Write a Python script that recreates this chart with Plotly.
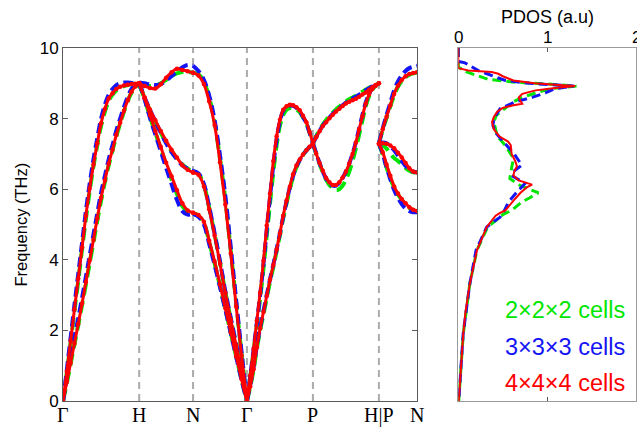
import plotly.graph_objects as go

# ---------------- data ----------------
# high-symmetry path (units of 2*pi/a, BCC)
TICK_K = [0.0, 1.0, 1.707, 2.414, 3.280, 4.146, 4.646]
TICK_LABELS = ["Γ", "H", "N", "Γ", "P", "H|P", "N"]

K_GH = [0.00, 0.05, 0.10, 0.15, 0.20, 0.25, 0.30, 0.35, 0.40, 0.45, 0.50,
        0.55, 0.60, 0.65, 0.70, 0.75, 0.80, 0.85, 0.90, 0.95, 1.00]
K_HN = [1.000, 1.071, 1.141, 1.212, 1.283, 1.354, 1.424, 1.495, 1.566, 1.636, 1.707]
K_NG = [1.707, 1.778, 1.849, 1.919, 1.990, 2.061, 2.131, 2.202, 2.273, 2.343, 2.414]
K_GP = [2.414, 2.457, 2.501, 2.544, 2.587, 2.631, 2.674, 2.717, 2.761, 2.804, 2.847,
        2.890, 2.934, 2.977, 3.020, 3.064, 3.107, 3.150, 3.194, 3.237, 3.280]
K_PH = [3.280, 3.323, 3.367, 3.410, 3.453, 3.497, 3.540, 3.583, 3.627, 3.670, 3.713,
        3.757, 3.800, 3.843, 3.887, 3.930, 3.973, 4.017, 4.060, 4.103, 4.146]
K_PN = [4.146, 4.196, 4.246, 4.296, 4.346, 4.396, 4.446, 4.496, 4.546, 4.596, 4.646]

# 4x4x4 cells (red)
RED_GH = [[0, 0.83, 1.7, 2.6, 3.47, 4.35, 5.25, 6.02, 6.7, 7.3, 7.87, 8.27, 8.57, 8.72, 8.84, 8.9, 8.94, 8.96, 8.98, 8.99, 9.0],
          [0, 0.54, 1.08, 1.63, 2.18, 2.76, 3.37, 3.98, 4.57, 5.18, 5.76, 6.25, 6.73, 7.12, 7.54, 7.88, 8.22, 8.52, 8.76, 8.91, 9.0]]
RED_HN = [[9.0, 8.92, 8.87, 8.85, 8.97, 9.16, 9.31, 9.41, 9.38, 9.34, 9.3],
          [9.0, 8.6, 8.26, 7.95, 7.65, 7.37, 7.12, 6.9, 6.68, 6.55, 6.47],
          [9.0, 8.58, 8.1, 7.65, 7.2, 6.75, 6.37, 5.97, 5.6, 5.4, 5.33]]
RED_NG = [[9.3, 9.22, 8.98, 8.49, 7.82, 6.76, 5.57, 4.18, 2.68, 1.29, 0],
          [6.47, 6.41, 6.08, 5.43, 4.69, 3.89, 3.06, 2.3, 1.57, 0.8, 0],
          [5.33, 5.27, 5.08, 4.54, 3.95, 3.3, 2.63, 1.95, 1.27, 0.62, 0]]
RED_GP = [[0, 0.72, 1.47, 2.27, 3.07, 3.97, 4.97, 5.88, 6.8, 7.5, 7.97, 8.25, 8.35, 8.39, 8.38, 8.32, 8.24, 8.08, 7.9, 7.62, 7.29],
          [0, 0.41, 0.9, 1.52, 2.06, 2.52, 2.98, 3.44, 3.85, 4.3, 4.75, 5.25, 5.68, 6.07, 6.42, 6.67, 6.84, 6.98, 7.1, 7.2, 7.29]]
RED_PH = [[7.29, 7.47, 7.64, 7.79, 7.9, 8.01, 8.11, 8.2, 8.28, 8.36, 8.43, 8.48, 8.52, 8.56, 8.62, 8.68, 8.74, 8.82, 8.89, 8.95, 9.0],
          [7.29, 7.01, 6.74, 6.52, 6.32, 6.2, 6.12, 6.12, 6.2, 6.33, 6.5, 6.73, 7.0, 7.32, 7.7, 8.07, 8.42, 8.68, 8.84, 8.93, 9.0]]
RED_PN = [[7.29, 7.7, 8.05, 8.38, 8.7, 8.93, 9.09, 9.2, 9.26, 9.29, 9.31],
          [7.29, 7.3, 7.29, 7.24, 7.16, 7.03, 6.9, 6.74, 6.59, 6.5, 6.47],
          [7.29, 7.05, 6.7, 6.38, 6.08, 5.88, 5.72, 5.6, 5.49, 5.42, 5.38]]

# 3x3x3 cells (blue)
BLUE_GH = [[0, 0.88, 1.8, 2.72, 3.6, 4.48, 5.38, 6.15, 6.85, 7.45, 8.0, 8.4, 8.68, 8.84, 8.95, 9.0, 9.02, 9.02, 9.01, 9.0, 9.0],
           [0, 0.65, 1.25, 1.8, 2.35, 2.92, 3.52, 4.12, 4.72, 5.32, 5.9, 6.38, 6.85, 7.25, 7.66, 8.0, 8.33, 8.62, 8.84, 8.96, 9.0]]
BLUE_HN = [[9.02, 9.0, 8.97, 8.95, 8.98, 9.08, 9.2, 9.33, 9.45, 9.52, 9.5],
           [9.02, 8.6, 8.25, 7.92, 7.6, 7.3, 7.05, 6.85, 6.68, 6.58, 6.52],
           [9.02, 8.55, 8.02, 7.55, 7.08, 6.6, 6.15, 5.7, 5.38, 5.28, 5.3]]
BLUE_NG = [[9.5, 9.35, 9.1, 8.65, 7.95, 6.95, 5.8, 4.35, 2.85, 1.4, 0],
           [6.52, 6.45, 6.15, 5.5, 4.75, 3.95, 3.1, 2.35, 1.6, 0.82, 0],
           [5.3, 5.22, 5.0, 4.45, 3.85, 3.22, 2.58, 1.92, 1.25, 0.6, 0]]
BLUE_GP = [[0, 0.7, 1.45, 2.22, 3.0, 3.88, 4.85, 5.78, 6.7, 7.42, 7.92, 8.22, 8.33, 8.37, 8.36, 8.3, 8.2, 8.05, 7.86, 7.6, 7.3],
           [0, 0.45, 0.95, 1.55, 2.08, 2.55, 3.0, 3.45, 3.87, 4.3, 4.75, 5.22, 5.65, 6.05, 6.38, 6.64, 6.83, 6.97, 7.1, 7.2, 7.3]]
BLUE_PH = [[7.3, 7.48, 7.65, 7.8, 7.92, 8.03, 8.13, 8.22, 8.3, 8.38, 8.45, 8.51, 8.57, 8.62, 8.68, 8.74, 8.8, 8.86, 8.91, 8.96, 9.0],
           [7.3, 7.02, 6.74, 6.5, 6.3, 6.17, 6.1, 6.1, 6.18, 6.32, 6.5, 6.73, 7.0, 7.33, 7.72, 8.1, 8.45, 8.7, 8.86, 8.95, 9.0]]
BLUE_PN = [[7.3, 7.72, 8.1, 8.45, 8.8, 9.05, 9.22, 9.35, 9.43, 9.47, 9.5],
           [7.3, 7.32, 7.3, 7.22, 7.1, 6.95, 6.8, 6.66, 6.55, 6.5, 6.48],
           [7.3, 7.0, 6.62, 6.28, 5.98, 5.75, 5.58, 5.45, 5.38, 5.35, 5.35]]

# 2x2x2 cells (green)
GREEN_GH = [[0, 0.8, 1.65, 2.55, 3.4, 4.3, 5.15, 5.95, 6.65, 7.25, 7.8, 8.2, 8.5, 8.68, 8.8, 8.87, 8.92, 8.95, 8.97, 8.98, 8.98],
            [0, 0.5, 1.05, 1.6, 2.15, 2.72, 3.3, 3.9, 4.5, 5.1, 5.68, 6.2, 6.68, 7.1, 7.5, 7.86, 8.2, 8.5, 8.74, 8.9, 8.98]]
GREEN_HN = [[8.98, 8.95, 8.92, 8.93, 9.0, 9.1, 9.2, 9.28, 9.32, 9.32, 9.3],
            [8.98, 8.58, 8.22, 7.9, 7.6, 7.32, 7.08, 6.87, 6.7, 6.58, 6.5],
            [8.98, 8.56, 8.05, 7.6, 7.15, 6.7, 6.28, 5.87, 5.52, 5.37, 5.33]]
GREEN_NG = [[9.3, 9.25, 9.05, 8.6, 7.9, 6.85, 5.7, 4.25, 2.78, 1.35, 0],
            [6.5, 6.43, 6.12, 5.47, 4.72, 3.92, 3.08, 2.32, 1.58, 0.8, 0],
            [5.33, 5.25, 5.05, 4.5, 3.9, 3.25, 2.6, 1.93, 1.26, 0.61, 0]]
GREEN_GP = [[0, 0.68, 1.4, 2.15, 2.9, 3.75, 4.7, 5.6, 6.5, 7.25, 7.8, 8.1, 8.25, 8.3, 8.3, 8.26, 8.18, 8.03, 7.86, 7.6, 7.3],
            [0, 0.4, 0.88, 1.48, 2.0, 2.45, 2.92, 3.38, 3.8, 4.25, 4.7, 5.18, 5.6, 6.0, 6.35, 6.62, 6.82, 6.97, 7.1, 7.2, 7.3]]
GREEN_PH = [[7.3, 7.5, 7.68, 7.83, 7.96, 8.07, 8.17, 8.26, 8.34, 8.42, 8.49, 8.55, 8.6, 8.65, 8.7, 8.76, 8.82, 8.87, 8.92, 8.96, 9.0],
            [7.3, 7.0, 6.72, 6.48, 6.27, 6.12, 6.03, 5.98, 6.0, 6.1, 6.27, 6.5, 6.8, 7.15, 7.55, 7.95, 8.35, 8.63, 8.82, 8.93, 9.0]]
GREEN_PN = [[7.3, 7.68, 8.02, 8.35, 8.66, 8.9, 9.06, 9.17, 9.24, 9.28, 9.3],
            [7.3, 7.25, 7.15, 7.0, 6.88, 6.8, 6.7, 6.6, 6.52, 6.48, 6.47],
            [7.3, 6.98, 6.62, 6.3, 6.05, 5.85, 5.7, 5.57, 5.47, 5.4, 5.38]]

# PDOS (frequency in THz, PDOS in a.u.)
RED_DOS_F = [10.0, 9.43, 9.36, 9.32, 9.27, 9.2, 9.08, 9.0, 8.96, 8.92, 8.87, 8.8, 8.7, 8.6, 8.5, 8.42,
             8.38, 8.3, 8.2, 8.05, 7.9, 7.7, 7.5, 7.35, 7.25, 7.0, 6.8, 6.65, 6.5, 6.39, 6.25, 6.13,
             6.05, 5.9, 5.73, 5.55, 5.4, 5.33, 5.25, 4.93, 4.27, 3.33, 2.5, 1.91, 0.97, 0.0]
RED_DOS = [0.0, 0.0, 0.113, 0.376, 0.45, 0.5, 0.62, 0.86, 1.09, 1.315, 1.09, 0.87, 0.72, 0.68, 0.7, 0.72,
           0.62, 0.5, 0.44, 0.4, 0.38, 0.4, 0.46, 0.56, 0.59, 0.6, 0.64, 0.66, 0.63, 0.62, 0.68, 0.83,
           0.77, 0.7, 0.64, 0.58, 0.53, 0.47, 0.42, 0.32, 0.21, 0.13, 0.08, 0.056, 0.027, 0.005]
BLUE_DOS_F = [10.0, 9.62, 9.58, 9.36, 9.2, 9.08, 9.0, 8.95, 8.92, 8.85, 8.73, 8.6, 8.47, 8.28, 8.0, 7.8,
              7.57, 7.24, 6.96, 6.68, 6.5, 6.39, 6.16, 5.92, 5.64, 5.4, 5.21, 4.93, 4.27, 3.33, 1.91, 0.0]
BLUE_DOS = [0.0, 0.0, 0.075, 0.225, 0.4, 0.53, 0.8, 1.1, 1.3, 1.09, 0.98, 0.83, 0.64, 0.47, 0.4, 0.39,
            0.43, 0.545, 0.64, 0.715, 0.62, 0.6, 0.75, 0.66, 0.565, 0.52, 0.47, 0.32, 0.2, 0.13, 0.055, 0.005]
GREEN_DOS_F = [10.0, 9.45, 9.4, 9.32, 9.11, 9.03, 8.98, 8.92, 8.85, 8.75, 8.6, 8.45, 8.3, 8.1, 7.9, 7.5,
               7.24, 6.87, 6.6, 6.3, 6.1, 5.9, 5.75, 5.64, 5.4, 5.28, 5.21, 4.93, 4.27, 3.33, 1.91, 0.0]
GREEN_DOS = [0.0, 0.0, 0.05, 0.095, 0.34, 0.64, 1.0, 1.33, 1.05, 0.9, 0.72, 0.6, 0.53, 0.43, 0.4, 0.44,
             0.53, 0.62, 0.6, 0.58, 0.7, 0.9, 0.8, 0.715, 0.6, 0.5, 0.47, 0.33, 0.21, 0.13, 0.056, 0.005]

DOS_TICKS = [0, 1, 2]
FREQ_TICKS = [0, 2, 4, 6, 8, 10]
SERIES_NAMES = ["2×2×2 cells", "3×3×3 cells", "4×4×4 cells"]

# ---------------- styling / layout ----------------
W, H = 637, 427
ML, MR, MT, MB = 63, W - 636, 48, H - 401
PW, PH_ = W - ML - MR, H - MT - MB
GREEN = "rgb(0,230,0)"
BLUE = "rgb(20,20,245)"
RED = "rgb(255,0,0)"
AXC = "#5a5a5a"
SANS = "Liberation Sans, Arial"
SERIF = "Liberation Serif, Times New Roman"


def fx(p):
    # page pixel -> paper x
    return (p - ML) / PW


def fy(p):
    # page pixel -> paper y
    return (H - MB - p) / PH_


def build(segments):
    xs, ys = [], []
    for K, branches in segments:
        for b in branches:
            xs += list(K) + [None]
            ys += list(b) + [None]
    return xs, ys


def segs(GH, HN, NG, GP, PH, PN):
    return [(K_GH, GH), (K_HN, HN), (K_NG, NG), (K_GP, GP), (K_PH, PH), (K_PN, PN)]


fig = go.Figure()

gx, gy = build(segs(GREEN_GH, GREEN_HN, GREEN_NG, GREEN_GP, GREEN_PH, GREEN_PN))
bx, by = build(segs(BLUE_GH, BLUE_HN, BLUE_NG, BLUE_GP, BLUE_PH, BLUE_PN))
rx, ry = build(segs(RED_GH, RED_HN, RED_NG, RED_GP, RED_PH, RED_PN))

fig.add_trace(go.Scatter(x=gx, y=gy, mode="lines", line=dict(color=GREEN, width=4, dash="12px,6px", shape="spline"),
                         name=SERIES_NAMES[0], showlegend=False, xaxis="x", yaxis="y"))
fig.add_trace(go.Scatter(x=bx, y=by, mode="lines", line=dict(color=BLUE, width=4, dash="10px,5px", shape="spline"),
                         name=SERIES_NAMES[1], showlegend=False, xaxis="x", yaxis="y"))
fig.add_trace(go.Scatter(x=rx, y=ry, mode="lines+markers", line=dict(color=RED, width=3, shape="spline"),
                         marker=dict(color=RED, size=4.5), name=SERIES_NAMES[2], showlegend=False,
                         xaxis="x", yaxis="y"))

# PDOS panel
fig.add_trace(go.Scatter(x=GREEN_DOS, y=GREEN_DOS_F, mode="lines", line=dict(color=GREEN, width=3, dash="9px,5px"),
                         showlegend=False, xaxis="x2", yaxis="y2"))
fig.add_trace(go.Scatter(x=BLUE_DOS, y=BLUE_DOS_F, mode="lines", line=dict(color=BLUE, width=3, dash="9px,5px"),
                         showlegend=False, xaxis="x2", yaxis="y2"))
fig.add_trace(go.Scatter(x=RED_DOS, y=RED_DOS_F, mode="lines", line=dict(color=RED, width=2),
                         showlegend=False, xaxis="x2", yaxis="y2"))

shapes = []
for k in TICK_K[1:-1]:
    shapes.append(dict(type="line", xref="x", yref="y", x0=k, x1=k, y0=0, y1=10, layer="below",
                       line=dict(color="#ababab", width=2, dash="7px,5px")))

annotations = [
    dict(text="Frequency (THz)", xref="paper", yref="paper", x=fx(20), y=fy(224.5), textangle=-90,
         showarrow=False, xanchor="center", yanchor="middle",
         font=dict(family=SANS, size=16.5, color="black")),
    dict(text="PDOS (a.u)", xref="paper", yref="paper", x=fx(547), y=fy(17), showarrow=False,
         xanchor="center", yanchor="middle", font=dict(family=SANS, size=18, color="black")),
]
# high-symmetry labels under the band panel
for k, lab in zip(TICK_K, TICK_LABELS):
    annotations.append(dict(text=lab, xref="x", yref="paper", x=k, y=fy(415), showarrow=False,
                            xanchor="center", yanchor="middle", font=dict(family=SERIF, size=20, color="black")))
# PDOS tick labels on top (the last one is cut by the page edge, as in the original)
for v in DOS_TICKS:
    annotations.append(dict(text=str(v), xref="x2", yref="paper", x=v, y=fy(38), showarrow=False,
                            xanchor="center", yanchor="middle", font=dict(family=SANS, size=17, color="black")))
for name, col, yy in zip(SERIES_NAMES, [GREEN, BLUE, RED], [310, 346.7, 383.3]):
    annotations.append(dict(text=name, xref="paper", yref="paper", x=fx(627), y=fy(yy), showarrow=False,
                            xanchor="right", yanchor="middle",
                            font=dict(family=SANS, size=23.5, color=col)))

x1_dom = [0, fx(417)]
x2_dom = [fx(458.3), 1]

fig.update_layout(
    width=W, height=H, margin=dict(l=ML, r=MR, t=MT, b=MB, pad=0), autosize=False,
    paper_bgcolor="white", plot_bgcolor="white", hovermode=False,
    shapes=shapes, annotations=annotations,
    xaxis=dict(domain=x1_dom, range=[0, TICK_K[-1]], tickmode="array", tickvals=TICK_K,
               showticklabels=False, ticks="", showgrid=False, zeroline=False, showline=True, mirror=True,
               linecolor=AXC, linewidth=1, anchor="y", automargin=False),
    yaxis=dict(domain=[0, 1], range=[0, 10], tickmode="array", tickvals=FREQ_TICKS,
               ticks="inside", ticklen=5, tickcolor=AXC, showgrid=False, zeroline=False, showline=True,
               mirror="ticks", linecolor=AXC, linewidth=1, anchor="x", automargin=False,
               tickfont=dict(family=SANS, size=17, color="black")),
    xaxis2=dict(domain=x2_dom, range=[0, 2], side="top", tickmode="array", tickvals=DOS_TICKS,
                showticklabels=False,
                ticks="inside", ticklen=4, tickcolor=AXC, showgrid=False, zeroline=False, showline=True,
                mirror="ticks", linecolor="#9a9a9a", linewidth=1, anchor="y2", automargin=False),
    yaxis2=dict(domain=[0, 1], range=[0, 10], showticklabels=False, ticks="", showgrid=False, zeroline=False,
                showline=True, mirror=True, linecolor="#9a9a9a", linewidth=1, anchor="x2", automargin=False),
)

fig.write_html("out.html", config={"displayModeBar": False},
               post_script="document.body.style.margin='0px';document.body.style.overflow='hidden';")
